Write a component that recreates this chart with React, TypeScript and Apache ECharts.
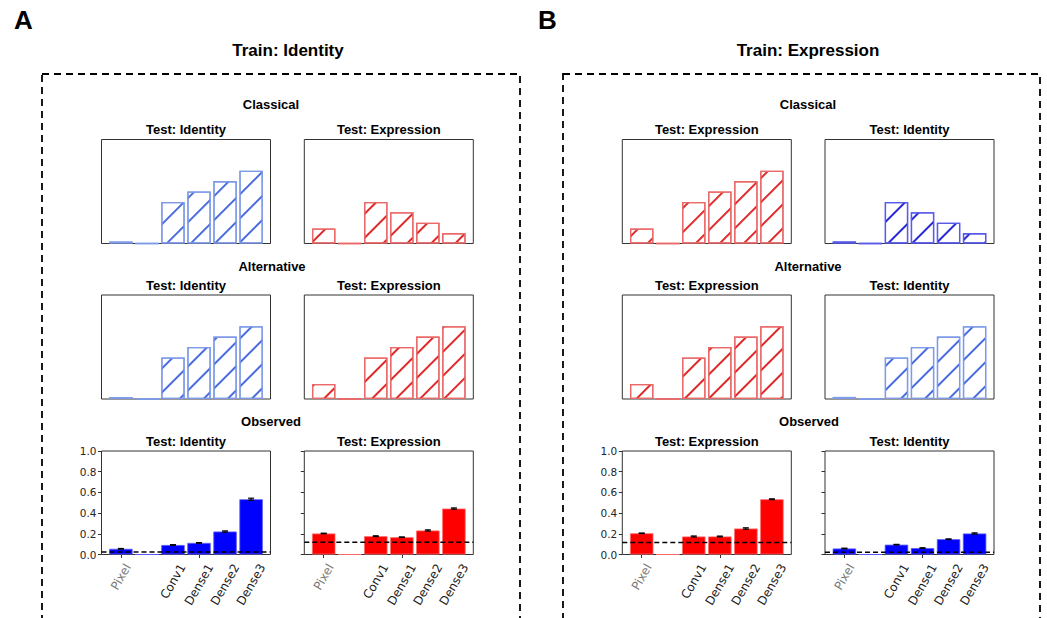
import React, { useEffect, useRef } from "react";
import * as echarts from "echarts";

// ---------- data ----------
const LAYERS = ["Pixel", "", "Conv1", "Dense1", "Dense2", "Dense3"];
const Y_TICKS = [0, 0.2, 0.4, 0.6, 0.8, 1.0];

// hypothetical (hatched) patterns
const classicalA_identity = [0.02, 0, 0.4, 0.5, 0.6, 0.7];
const classicalA_expression = [0.145, 0, 0.4, 0.3, 0.2, 0.1];
const alternativeA_identity = [0.02, 0, 0.4, 0.5, 0.6, 0.7];
const alternativeA_expression = [0.145, 0, 0.4, 0.5, 0.6, 0.7];
const classicalB_expression = [0.145, 0, 0.4, 0.5, 0.6, 0.7];
const classicalB_identity = [0.02, 0, 0.4, 0.3, 0.2, 0.1];
const alternativeB_expression = [0.145, 0, 0.4, 0.5, 0.6, 0.7];
const alternativeB_identity = [0.02, 0, 0.4, 0.5, 0.6, 0.7];

// observed decoding accuracy
const observedA_identity = [0.055, 0, 0.092, 0.112, 0.222, 0.534];
const observedA_identity_err = [0.003, 0, 0.003, 0.003, 0.006, 0.01];
const chanceA_identity = 0.025;
const observedA_expression = [0.203, 0, 0.177, 0.167, 0.232, 0.444];
const observedA_expression_err = [0.003, 0, 0.004, 0.003, 0.006, 0.006];
const chanceA_expression = 0.119;
const observedB_expression = [0.205, 0, 0.174, 0.174, 0.251, 0.534];
const observedB_expression_err = [0.003, 0, 0.005, 0.004, 0.007, 0.004];
const chanceB_expression = 0.116;
const observedB_identity = [0.058, 0, 0.095, 0.062, 0.148, 0.203];
const observedB_identity_err = [0.003, 0, 0.003, 0.003, 0.003, 0.006];
const chanceB_identity = 0.021;

// ---------- styles ----------
const PAL: Record<string, any> = {
  hatchLight: { edge: "#7F9AE8", hatch: "#4A6DDF" },
  hatchDark: { edge: "#5A5AEA", hatch: "#2A2AD6" },
  hatchRed: { edge: "#EA6A6A", hatch: "#DF2A2A" },
  solidBlue: { fill: "#0000FF", edge: "#5A5AFF" },
  solidRed: { fill: "#FF0000", edge: "#FF6A6A" },
};

const COL_LEFT = [101.5, 304.3, 622.3, 825];
const ROW_TOP = [139.5, 295, 451];
const ROW_H = [104, 104, 103.5];
const FRAME_W = 169;

type Sub = {
  col: number;
  row: number;
  title: string;
  kind: "hatch" | "solid";
  values: number[];
  err?: number[];
  chance?: number;
  pal: string;
  yLabels?: boolean;
};

const SUBS: Sub[] = [
  { col: 0, row: 0, title: "Test: Identity", kind: "hatch", values: classicalA_identity, pal: "hatchLight" },
  { col: 1, row: 0, title: "Test: Expression", kind: "hatch", values: classicalA_expression, pal: "hatchRed" },
  { col: 0, row: 1, title: "Test: Identity", kind: "hatch", values: alternativeA_identity, pal: "hatchLight" },
  { col: 1, row: 1, title: "Test: Expression", kind: "hatch", values: alternativeA_expression, pal: "hatchRed" },
  { col: 0, row: 2, title: "Test: Identity", kind: "solid", values: observedA_identity, err: observedA_identity_err, chance: chanceA_identity, pal: "solidBlue", yLabels: true },
  { col: 1, row: 2, title: "Test: Expression", kind: "solid", values: observedA_expression, err: observedA_expression_err, chance: chanceA_expression, pal: "solidRed" },
  { col: 2, row: 0, title: "Test: Expression", kind: "hatch", values: classicalB_expression, pal: "hatchRed" },
  { col: 3, row: 0, title: "Test: Identity", kind: "hatch", values: classicalB_identity, pal: "hatchDark" },
  { col: 2, row: 1, title: "Test: Expression", kind: "hatch", values: alternativeB_expression, pal: "hatchRed" },
  { col: 3, row: 1, title: "Test: Identity", kind: "hatch", values: alternativeB_identity, pal: "hatchLight" },
  { col: 2, row: 2, title: "Test: Expression", kind: "solid", values: observedB_expression, err: observedB_expression_err, chance: chanceB_expression, pal: "solidRed", yLabels: true },
  { col: 3, row: 2, title: "Test: Identity", kind: "solid", values: observedB_identity, err: observedB_identity_err, chance: chanceB_identity, pal: "solidBlue" },
];

const TITLE_FONT = "Liberation Sans, Arial, sans-serif";
const TICK_FONT = "DejaVu Sans, sans-serif";
const XLABEL_SIZE = 12;

let measureCtx: CanvasRenderingContext2D | null = null;
function textWidth(t: string, font: string) {
  if (!measureCtx) measureCtx = document.createElement("canvas").getContext("2d");
  if (!measureCtx) return t.length * 6;
  measureCtx.font = font;
  return measureCtx.measureText(t).width;
}

function buildOption() {
  const grid: any[] = [];
  const xAxis: any[] = [];
  const yAxis: any[] = [];
  const series: any[] = [];
  const graphic: any[] = [];
  const yMin = Y_TICKS[0];
  const yMax = Y_TICKS[Y_TICKS.length - 1];
  const yInt = Y_TICKS[1] - Y_TICKS[0];
  const n = LAYERS.length;
  const span = n - 1 + 0.9 + 2 * 0.05 * (n - 1 + 0.9);

  SUBS.forEach((s, k) => {
    const L = COL_LEFT[s.col];
    const T = ROW_TOP[s.row];
    const H = ROW_H[s.row];
    const W = FRAME_W;
    const unit = W / span;
    const inset = (span - n) / 2 * unit;
    const fi = 2 * k;
    const di = 2 * k + 1;
    const solid = s.kind === "solid";
    const pal = PAL[s.pal];

    grid.push({ left: L, top: T, width: W, height: H, show: true, borderColor: "#333", borderWidth: 1, backgroundColor: "transparent", containLabel: false });
    grid.push({ left: L + inset, top: T, width: n * unit, height: H, show: false, containLabel: false });

    xAxis.push({ type: "value", gridIndex: fi, min: 0, max: 1, show: false });
    xAxis.push({
      type: "category",
      gridIndex: di,
      data: LAYERS,
      boundaryGap: true,
      axisLine: { show: false },
      axisTick: { show: solid, alignWithLabel: true, length: 3.5, lineStyle: { color: "#333", width: 1 } },
      axisLabel: { show: false },
      splitLine: { show: false },
    });

    yAxis.push({
      type: "value",
      gridIndex: fi,
      min: yMin,
      max: yMax,
      interval: yInt,
      axisLine: { show: false },
      axisTick: { show: solid, length: 3.5, lineStyle: { color: "#333", width: 1 } },
      axisLabel: {
        show: !!s.yLabels,
        fontFamily: TICK_FONT,
        fontSize: 10.5,
        color: "#262626",
        margin: 5,
        formatter: (v: number) => v.toFixed(1),
      },
      splitLine: { show: false },
    });
    yAxis.push({ type: "value", gridIndex: di, min: yMin, max: yMax, show: false });

    graphic.push({
      type: "text",
      x: L + W / 2,
      y: T - 10,
      style: { text: s.title, font: `bold 13px ${TITLE_FONT}`, fill: "#000", align: "center", verticalAlign: "middle" },
      silent: true,
    });

    if (solid) {
      series.push({
        type: "bar",
        xAxisIndex: di,
        yAxisIndex: di,
        data: s.values,
        barCategoryGap: "10%",
        itemStyle: { color: pal.fill, borderColor: pal.edge, borderWidth: 0.8 },
        z: 2,
        silent: true,
      });
      const errData = s.values
        .map((v, i) => [i, v - (s.err as number[])[i], v + (s.err as number[])[i]])
        .filter((d, i) => LAYERS[i] !== "");
      series.push({
        type: "custom",
        xAxisIndex: di,
        yAxisIndex: di,
        data: errData,
        encode: { x: 0, y: [1, 2] },
        clip: false,
        z: 5,
        silent: true,
        renderItem: (params: any, api: any) => {
          const x = api.value(0);
          const top = api.coord([x, api.value(2)]);
          const bot = api.coord([x, api.value(1)]);
          const cap = 3;
          const st = { stroke: "#000", lineWidth: 1.2 };
          return {
            type: "group",
            children: [
              { type: "line", shape: { x1: top[0], y1: top[1], x2: bot[0], y2: bot[1] }, style: st },
              { type: "line", shape: { x1: top[0] - cap, y1: top[1], x2: top[0] + cap, y2: top[1] }, style: st },
              { type: "line", shape: { x1: bot[0] - cap, y1: bot[1], x2: bot[0] + cap, y2: bot[1] }, style: st },
            ],
          };
        },
      });
      series.push({
        type: "line",
        xAxisIndex: fi,
        yAxisIndex: fi,
        data: [
          [0, s.chance],
          [1, s.chance],
        ],
        symbol: "none",
        lineStyle: { color: "#000", width: 1.5, type: [5, 3] },
        z: 4,
        silent: true,
      });
      // rotated category labels
      const labelData = LAYERS.map((name, i) => [i, 0]).filter((d, i) => LAYERS[i] !== "");
      series.push({
        type: "custom",
        xAxisIndex: di,
        yAxisIndex: di,
        data: labelData,
        encode: { x: 0, y: 1 },
        clip: false,
        z: 5,
        silent: true,
        renderItem: (params: any, api: any) => {
          const idx = api.value(0);
          const name = LAYERS[idx];
          const p = api.coord([idx, 0]);
          const font = `${XLABEL_SIZE}px ${TICK_FONT}`;
          const len = textWidth(name, font);
          const h = XLABEL_SIZE * 1.15;
          const pad = 7;
          return {
            type: "text",
            x: p[0] + len / 4,
            y: p[1] + pad + h / 4,
            rotation: Math.PI / 3,
            style: {
              text: name,
              font,
              fill: name === "Pixel" ? "#7a7a7a" : "#1a1a1a",
              align: "right",
              verticalAlign: "middle",
            },
          };
        },
      });
    } else {
      series.push({
        type: "bar",
        xAxisIndex: di,
        yAxisIndex: di,
        data: s.values,
        barCategoryGap: "10%",
        itemStyle: {
          color: "rgba(255,255,255,0)",
          borderColor: pal.edge,
          borderWidth: 1.3,
          decal: {
            symbol: "rect",
            symbolSize: 1,
            color: pal.hatch,
            dashArrayX: [1, 0],
            dashArrayY: [1.1, 15],
            rotation: -Math.PI / 4,
          },
        },
        z: 2,
        silent: true,
      });
    }
  });

  // panel decorations
  const box = (x: number, y: number, w: number, h: number) => ({
    type: "rect",
    shape: { x, y, width: w, height: h },
    style: { fill: "none", stroke: "#000", lineWidth: 1.8, lineDash: [7, 5] },
    silent: true,
  });
  graphic.push(box(42, 74, 478, 600));
  graphic.push(box(563, 74, 477, 600));
  const txt = (t: string, x: number, y: number, size: number, align = "center") => ({
    type: "text",
    x,
    y,
    style: { text: t, font: `bold ${size}px ${TITLE_FONT}`, fill: "#000", align, verticalAlign: "middle" },
    silent: true,
  });
  graphic.push(txt("A", 14, 20, 26, "left"));
  graphic.push(txt("B", 538, 20, 26, "left"));
  graphic.push(txt("Train: Identity", 288, 50, 17));
  graphic.push(txt("Train: Expression", 808, 50, 17));
  graphic.push(txt("Classical", 271, 104, 13));
  graphic.push(txt("Alternative", 272, 266, 13));
  graphic.push(txt("Observed", 271, 421, 13));
  graphic.push(txt("Classical", 808, 104, 13));
  graphic.push(txt("Alternative", 808, 266, 13));
  graphic.push(txt("Observed", 809, 421, 13));

  return {
    animation: false,
    backgroundColor: "#fff",
    grid,
    xAxis,
    yAxis,
    series,
    graphic,
  };
}

export default function App() {
  const ref = useRef<HTMLDivElement>(null);
  useEffect(() => {
    if (!ref.current) return;
    const chart = echarts.init(ref.current, undefined, { renderer: "svg" });
    chart.setOption(buildOption() as any);
    return () => chart.dispose();
  }, []);
  return (
    <div
      ref={ref}
      style={{ position: "absolute", left: 0, top: 0, width: 1047, height: 618, background: "#fff" }}
    />
  );
}
